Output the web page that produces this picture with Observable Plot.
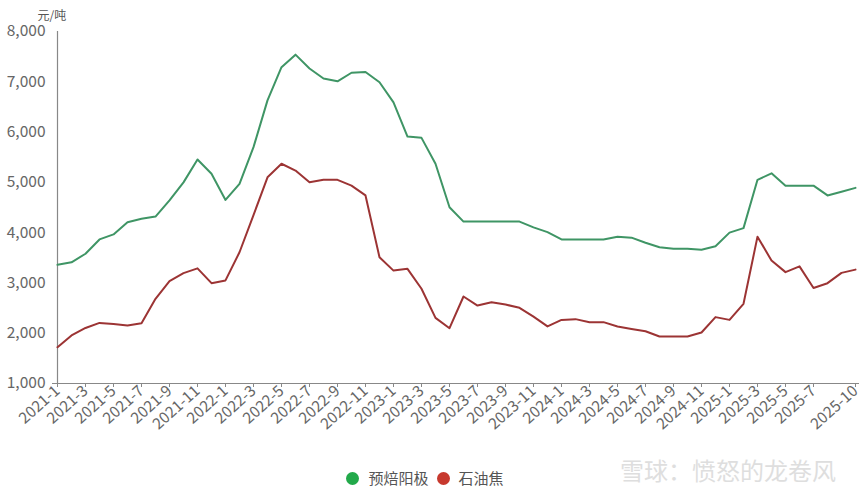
<!DOCTYPE html>
<html>
<head>
<meta charset="utf-8">
<script src="https://cdn.jsdelivr.net/npm/d3@7"></script>
<script src="https://cdn.jsdelivr.net/npm/@observablehq/plot@0.6"></script>
<style>
  html, body { margin: 0; padding: 0; background: #fff; }
  #wrap { position: relative; width: 865px; height: 497px; overflow: hidden; font-family: "Noto Sans CJK SC", "Open Sans", sans-serif; }
  #wrap svg { position: absolute; left: 0; top: 0; }
  #legend { position: absolute; left: 0; top: 468px; width: 850px; display: flex; justify-content: center; align-items: center; font-size: 15px; line-height: 20px; color: #555; }
  .item { display: flex; align-items: center; margin: 0 4px; }
  .dot { width: 13px; height: 13px; border-radius: 50%; margin-right: 9px; }
  #wm { position: absolute; left: 620px; top: 455px; font-size: 24px; line-height: 30px; color: #dedede; letter-spacing: 0px; white-space: nowrap; }
</style>
</head>
<body>
<div id="wrap"></div>
<script>
// Months 2021-1 .. 2025-10
const months = [];
for (let y = 2021; y <= 2025; y++) {
  for (let m = 1; m <= 12; m++) {
    if (y === 2025 && m > 10) break;
    months.push(`${y}-${m}`);
  }
}
const seriesNames = ["预焙阳极", "石油焦"];
const anodeValues = [3360, 3410, 3580, 3865, 3965, 4207, 4275, 4320, 4640, 5000,
  5455, 5170, 4650, 4970, 5700, 6630, 7290, 7540, 7265, 7065,
  7010, 7180, 7195, 6990, 6590, 5910, 5885, 5370, 4505, 4220,
  4220, 4220, 4220, 4220, 4105, 4010, 3865, 3865, 3865, 3865,
  3920, 3900, 3800, 3710, 3680, 3680, 3660, 3730, 4000, 4090,
  5050, 5180, 4935, 4935, 4935, 4740, 4815, 4890];
const cokeValues = [1720, 1955, 2105, 2205, 2185, 2155, 2200, 2685, 3035, 3195,
  3290, 2995, 3050, 3610, 4350, 5100, 5370, 5235, 5000, 5050,
  5050, 4935, 4740, 3510, 3245, 3280, 2885, 2305, 2100, 2730,
  2550, 2615, 2570, 2505, 2330, 2135, 2265, 2280, 2220, 2220,
  2135, 2085, 2040, 1935, 1935, 1935, 2015, 2320, 2265, 2585,
  3920, 3445, 3215, 3330, 2900, 2995, 3200, 3265];
const tickLabels = ["2021-1","2021-3","2021-5","2021-7","2021-9","2021-11",
  "2022-1","2022-3","2022-5","2022-7","2022-9","2022-11",
  "2023-1","2023-3","2023-5","2023-7","2023-9","2023-11",
  "2024-1","2024-3","2024-5","2024-7","2024-9","2024-11",
  "2025-1","2025-3","2025-5","2025-7","2025-10"];
const yTicks = [1000, 2000, 3000, 4000, 5000, 6000, 7000, 8000];
const unitLabel = "元/吨";
const watermark = "雪球：愤怒的龙卷风";
const lineColors = ["#3f9565", "#9c3434"];
const dotColors = ["#22a94a", "#c7392e"];

const data = [];
months.forEach((m, i) => {
  data.push({month: m, value: anodeValues[i], series: seriesNames[0]});
  data.push({month: m, value: cokeValues[i], series: seriesNames[1]});
});

const chart = Plot.plot({
  width: 865,
  height: 455,
  marginLeft: 52,
  marginRight: 6,
  marginTop: 31,
  marginBottom: 72,
  style: {fontFamily: "'Noto Sans CJK SC', 'Open Sans', sans-serif", background: "transparent"},
  x: {type: "point", domain: months, padding: 0},
  y: {domain: [1000, 8000]},
  color: {domain: seriesNames, range: lineColors},
  marks: [
    Plot.axisY({ticks: yTicks, tickSize: 0, tickPadding: 7, tickFormat: d3.format(","), label: null, fontSize: 15.5, fill: "#666"}),
    Plot.axisX({ticks: tickLabels, tickSize: 4, tickRotate: -42, tickPadding: 1, label: null, fontSize: 15.5, fill: "#666", stroke: "#888"}),
    Plot.ruleX([months[0]], {stroke: "#888", strokeWidth: 1.2}),
    Plot.ruleY([1000], {stroke: "#888", strokeWidth: 1.2}),
    Plot.line(data, {x: "month", y: "value", z: "series", stroke: "series", strokeWidth: 2}),
    Plot.text([unitLabel], {frameAnchor: "top-left", dx: -15, dy: -20, fontSize: 12, fill: "#555"})
  ]
});

const wrap = document.getElementById("wrap");

const wm = document.createElement("div");
wm.id = "wm";
wm.textContent = watermark;
wrap.appendChild(wm);

wrap.appendChild(chart);

const legend = document.createElement("div");
legend.id = "legend";
seriesNames.forEach((name, i) => {
  const it = document.createElement("div");
  it.className = "item";
  const dot = document.createElement("span");
  dot.className = "dot";
  dot.style.background = dotColors[i];
  const label = document.createElement("span");
  label.textContent = name;
  it.appendChild(dot);
  it.appendChild(label);
  legend.appendChild(it);
});
wrap.appendChild(legend);
</script>
</body>
</html>
